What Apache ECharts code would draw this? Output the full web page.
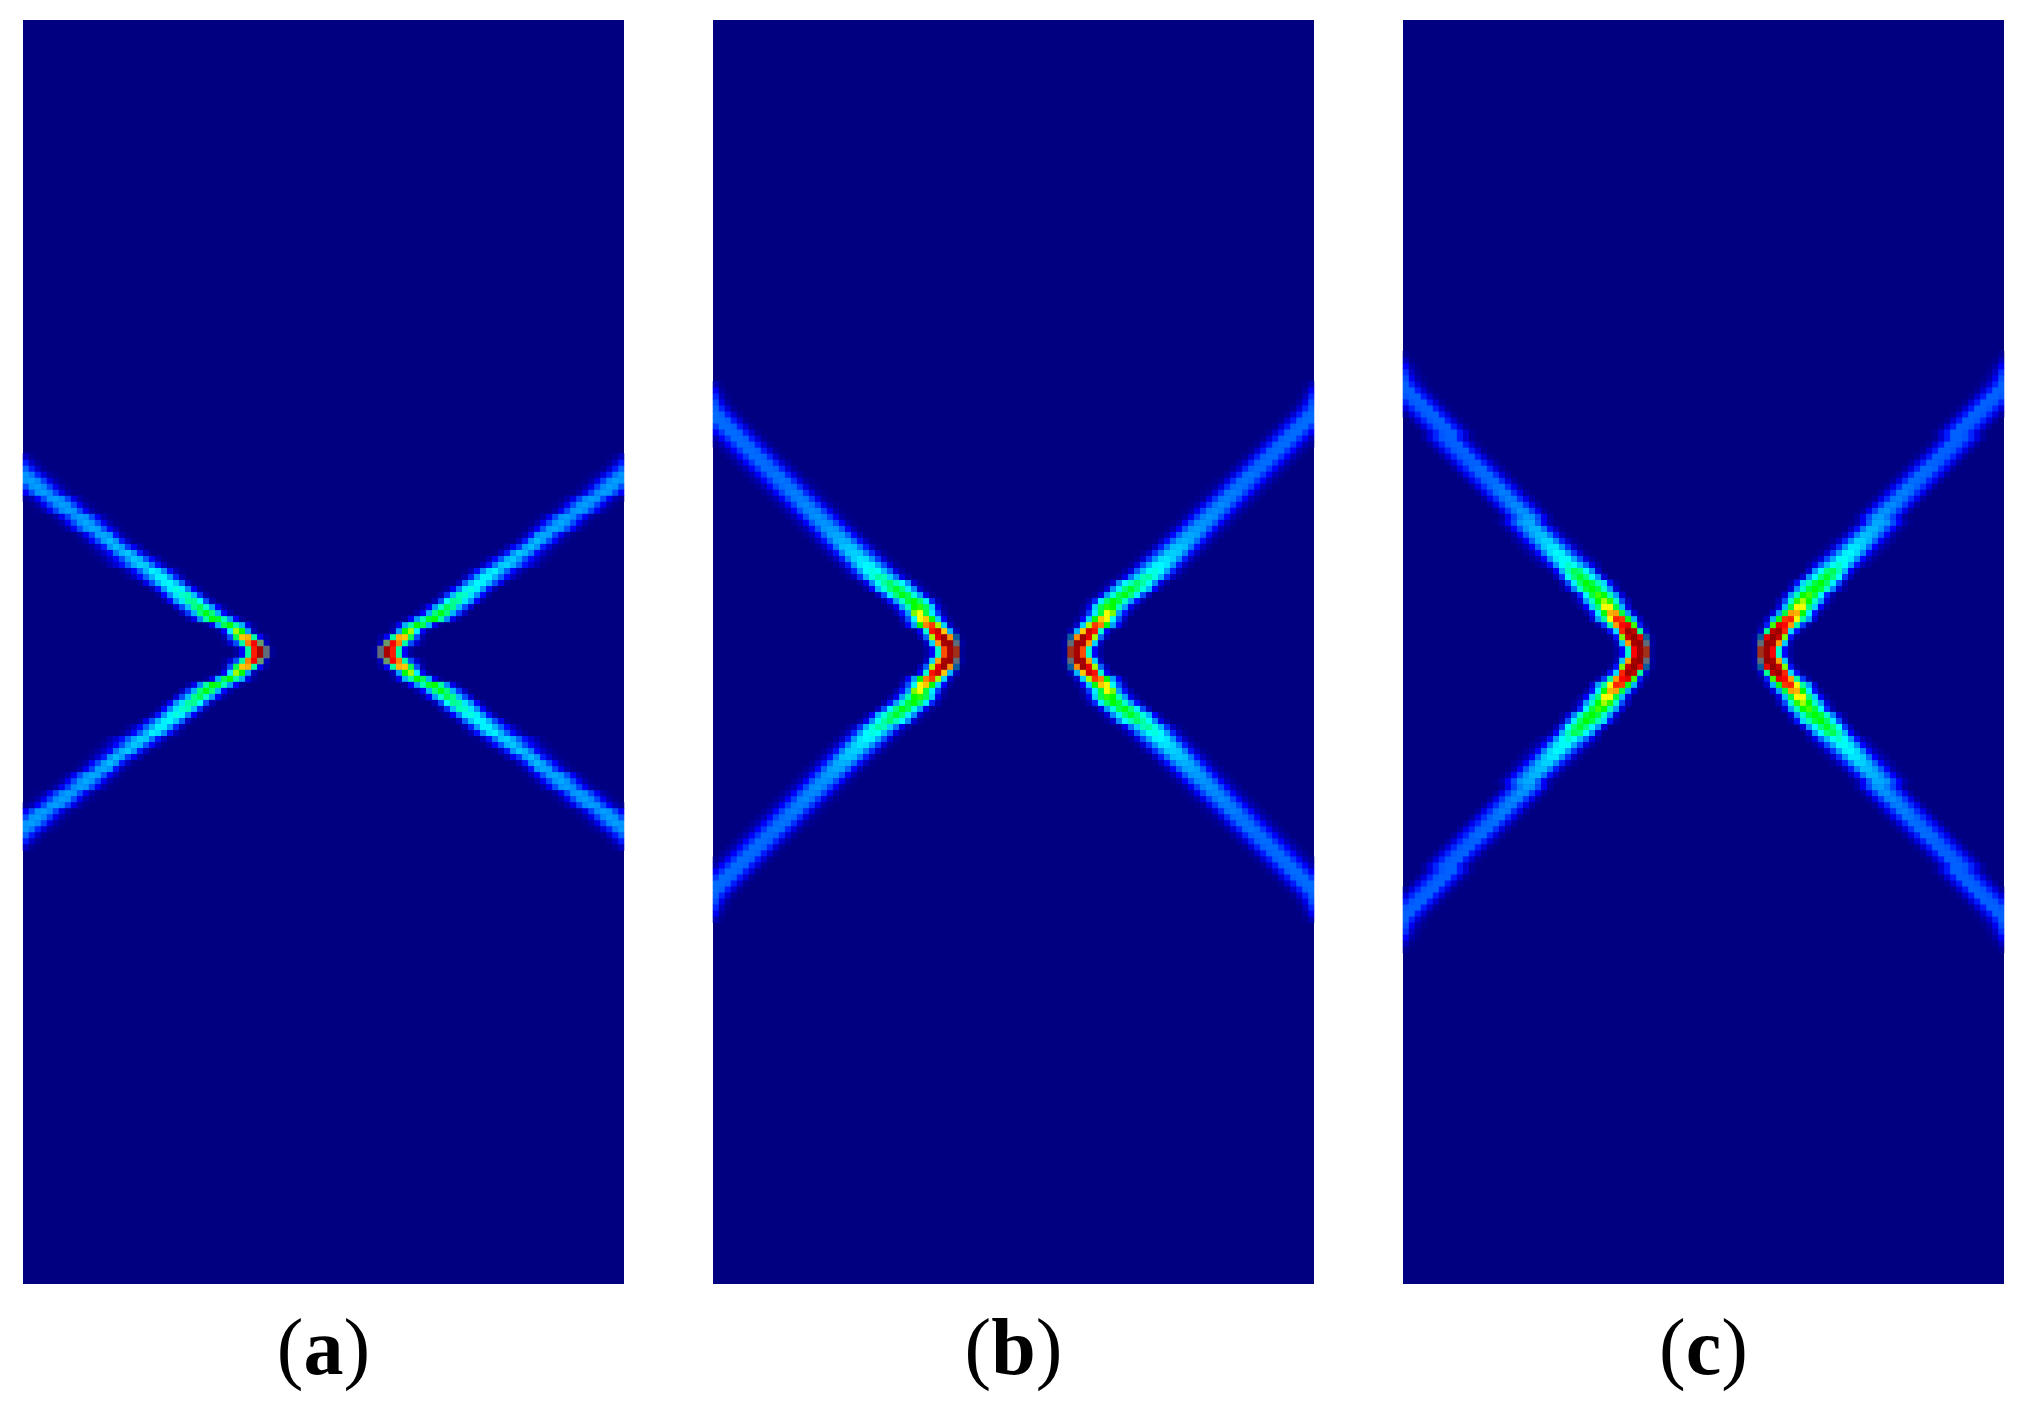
<!DOCTYPE html>
<html>
<head>
<meta charset="utf-8">
<title>Panels a, b, c</title>
<style>
    html, body { margin: 0; padding: 0; background: #fff; }
    #chart { width: 2028px; height: 1406px; }
</style>
<script src="https://cdn.jsdelivr.net/npm/echarts@6/dist/echarts.min.js"></script>
</head>
<body>
<div id="chart"></div>
<script>
// one line per row, going outward from the centre row: [first column, values...]
// values are 0-100 on the colour scale, 101-104 are the washed out cells at the tips
var panelA = [
    [35, 3, 12, 42, 85, 96, 101, 2],
    [33, 2, 8, 20, 42, 75, 88, 102, 6],
    [33, 4, 20, 46, 68, 70, 42, 12, 3],
    [32, 2, 12, 36, 58, 50, 28, 5],
    [30, 2, 10, 30, 46, 50, 42, 30, 10, 2],
    [27, 3, 10, 26, 42, 50, 48, 41, 28, 12, 2],
    [26, 6, 18, 30, 44, 49, 44, 30, 13, 4],
    [25, 8, 20, 31, 43, 46, 40, 28, 12, 3],
    [23, 3, 12, 27, 35, 42, 43, 38, 20, 5],
    [22, 3, 13, 26, 35, 40, 41, 31, 17, 4],
    [21, 4, 14, 27, 36, 39, 36, 25, 12, 3],
    [19, 2, 10, 20, 30, 36, 37, 32, 22, 6, 1],
    [17, 2, 6, 13, 22, 30, 36, 36, 28, 16, 5],
    [16, 2, 6, 13, 22, 30, 36, 34, 26, 14, 5, 1],
    [13, 1, 4, 8, 14, 22, 29, 33, 32, 24, 14, 6, 1],
    [12, 1, 3, 7, 13, 20, 28, 32, 30, 21, 13, 5, 1],
    [11, 1, 3, 7, 13, 24, 30, 32, 27, 15, 6, 1],
    [10, 1, 3, 8, 15, 27, 31, 28, 18, 11, 4],
    [9, 1, 4, 12, 20, 28, 31, 27, 15, 6, 1],
    [8, 1, 4, 11, 19, 28, 29, 27, 14, 5, 1],
    [6, 1, 4, 11, 20, 27, 29, 28, 21, 12, 5, 1],
    [5, 1, 4, 11, 20, 27, 29, 27, 20, 11, 4, 1],
    [4, 1, 4, 11, 19, 26, 28, 27, 20, 11, 4, 1],
    [2, 1, 4, 11, 19, 26, 28, 27, 20, 11, 4, 1],
    [1, 1, 4, 11, 19, 26, 28, 27, 20, 11, 4, 1],
    [0, 2, 5, 12, 20, 27, 28, 26, 19, 10, 4, 1],
    [0, 12, 20, 27, 28, 26, 19, 10, 4, 1],
    [0, 20, 27, 28, 26, 19, 10, 4, 1],
    [0, 27, 28, 26, 19, 10, 4, 1],
    [0, 27, 24, 16, 9, 3, 1],
    [0, 22, 15, 7, 2],
    [0, 15, 7, 2],
    [0, 6, 2]
];
var panelB = [
    [35, 3, 12, 40, 80, 96, 104, 2],
    [35, 6, 33, 72, 96, 97, 101, 3],
    [34, 5, 22, 58, 90, 97, 74, 103, 1],
    [33, 2, 12, 40, 86, 92, 68, 30, 5],
    [31, 2, 12, 28, 50, 75, 82, 58, 33, 7],
    [31, 6, 20, 38, 62, 68, 50, 33, 12, 2],
    [30, 4, 14, 28, 56, 62, 47, 36, 18, 4],
    [29, 3, 10, 28, 41, 50, 52, 46, 33, 10, 2],
    [28, 4, 14, 28, 40, 47, 50, 45, 36, 16, 4],
    [27, 6, 20, 36, 44, 49, 46, 39, 28, 10, 2],
    [25, 3, 12, 30, 39, 44, 48, 44, 36, 26, 8, 2],
    [24, 3, 10, 26, 38, 42, 45, 41, 37, 26, 8, 2],
    [22, 2, 6, 17, 30, 39, 42, 41, 33, 24, 10, 3],
    [21, 2, 6, 16, 28, 37, 39, 38, 31, 22, 9, 3],
    [20, 2, 6, 15, 27, 35, 37, 36, 29, 20, 9, 2],
    [19, 2, 6, 15, 26, 33, 35, 34, 27, 18, 8, 2],
    [18, 2, 6, 14, 25, 32, 33, 32, 25, 17, 7, 2],
    [17, 2, 6, 14, 24, 31, 32, 31, 24, 15, 6, 1],
    [16, 2, 6, 14, 23, 29, 30, 29, 23, 14, 6, 1],
    [15, 2, 5, 13, 22, 28, 29, 28, 22, 13, 5, 1],
    [14, 2, 5, 13, 21, 27, 28, 27, 21, 12, 5, 1],
    [13, 2, 5, 12, 21, 26, 27, 26, 20, 12, 4, 1],
    [12, 2, 5, 12, 20, 26, 27, 25, 19, 11, 4, 1],
    [11, 2, 5, 12, 20, 25, 26, 25, 19, 11, 4, 1],
    [10, 2, 5, 12, 19, 25, 26, 24, 18, 10, 4, 1],
    [9, 2, 5, 12, 19, 24, 25, 24, 18, 10, 3, 1],
    [8, 2, 5, 12, 19, 24, 25, 24, 17, 9, 3, 1],
    [7, 2, 5, 12, 19, 23, 24, 23, 17, 9, 3, 1],
    [6, 2, 5, 12, 18, 23, 24, 23, 17, 9, 3, 1],
    [5, 2, 5, 12, 18, 23, 24, 23, 16, 9, 3],
    [4, 2, 5, 12, 18, 23, 23, 22, 16, 8, 3],
    [3, 2, 5, 12, 18, 23, 23, 22, 16, 8, 3],
    [2, 2, 5, 12, 18, 23, 23, 22, 16, 8, 2],
    [1, 2, 5, 12, 18, 23, 23, 22, 15, 8, 2],
    [0, 2, 5, 12, 18, 23, 23, 22, 15, 8, 2],
    [0, 5, 12, 18, 23, 23, 22, 15, 8, 2],
    [0, 12, 18, 23, 23, 22, 15, 8, 2],
    [0, 18, 23, 23, 22, 15, 8, 2],
    [0, 23, 23, 22, 15, 8, 2],
    [0, 23, 22, 15, 8, 2],
    [0, 22, 16, 8, 2],
    [0, 20, 10, 3],
    [0, 16, 6, 1],
    [0, 11, 3],
    [0, 5, 1]
];
var panelC = [
    [35, 3, 13, 40, 88, 97, 104, 2],
    [35, 5, 32, 72, 96, 98, 101, 3],
    [34, 2, 14, 56, 93, 98, 90, 103, 2],
    [33, 2, 14, 34, 84, 97, 94, 43, 7],
    [32, 4, 18, 42, 72, 87, 90, 53, 15, 2],
    [31, 8, 28, 42, 62, 84, 82, 49, 30, 6],
    [30, 3, 14, 36, 50, 70, 72, 47, 28, 8],
    [29, 3, 12, 33, 44, 62, 63, 47, 31, 9],
    [28, 2, 8, 28, 40, 50, 58, 52, 40, 20, 5],
    [28, 4, 16, 37, 47, 53, 50, 41, 28, 8],
    [26, 2, 8, 25, 40, 47, 50, 47, 40, 27, 8],
    [26, 5, 20, 36, 45, 50, 47, 41, 34, 14, 3],
    [25, 5, 18, 38, 44, 48, 44, 37, 27, 8],
    [24, 3, 12, 30, 41, 46, 44, 37, 27, 8],
    [22, 2, 5, 14, 27, 37, 40, 38, 31, 22, 10, 3],
    [21, 2, 5, 13, 26, 35, 38, 37, 29, 20, 9, 3],
    [20, 2, 5, 13, 25, 34, 37, 36, 28, 18, 8, 2],
    [19, 2, 5, 12, 23, 32, 35, 35, 27, 17, 7, 2],
    [18, 2, 5, 12, 22, 30, 33, 33, 26, 16, 7, 2],
    [17, 1, 4, 12, 21, 28, 31, 31, 25, 15, 6, 1],
    [16, 1, 4, 12, 20, 27, 30, 30, 24, 14, 6, 1],
    [15, 1, 4, 12, 20, 27, 29, 29, 22, 12, 4, 1],
    [16, 3, 11, 19, 25, 28, 27, 20, 11, 3],
    [15, 3, 10, 18, 24, 27, 26, 19, 11, 3],
    [14, 3, 10, 18, 24, 26, 25, 18, 10, 3],
    [13, 3, 10, 17, 23, 25, 24, 17, 10, 3],
    [12, 3, 10, 17, 23, 25, 24, 17, 10, 3],
    [11, 3, 10, 17, 22, 24, 24, 17, 10, 3],
    [10, 3, 10, 16, 22, 23, 23, 17, 9, 3],
    [9, 3, 10, 16, 22, 23, 23, 17, 9, 3],
    [8, 3, 10, 16, 22, 23, 23, 16, 9, 3],
    [7, 3, 9, 16, 21, 22, 22, 16, 9, 3],
    [6, 3, 9, 16, 21, 22, 22, 15, 8, 2],
    [5, 3, 9, 16, 21, 22, 22, 15, 8, 2],
    [4, 3, 9, 16, 21, 22, 22, 15, 8, 2],
    [3, 3, 9, 16, 21, 22, 22, 15, 8, 2],
    [3, 3, 9, 16, 21, 22, 22, 15, 8, 2],
    [2, 3, 9, 16, 21, 22, 22, 15, 8, 2],
    [1, 3, 9, 16, 21, 22, 22, 15, 8, 2],
    [0, 3, 9, 16, 21, 22, 22, 15, 8, 2],
    [0, 9, 16, 21, 22, 22, 15, 8, 2],
    [0, 16, 21, 22, 22, 15, 8, 2],
    [0, 21, 22, 22, 15, 8, 2],
    [0, 22, 22, 15, 8, 2],
    [0, 22, 16, 8, 3],
    [0, 20, 11, 4, 1],
    [0, 17, 7, 2],
    [0, 12, 4, 1],
    [0, 6, 1],
    [0, 2]
];
var panelLetters = ['a', 'b', 'c'];
var columnCount = 100;
var rowCount = 210;

var panels = [panelA, panelB, panelC];
var lefts = [23, 713, 1403];
var scaleColors = ['#000080', '#0000ff', '#0080ff', '#00ffff', '#00ff00', '#ffff00', '#ff8000', '#ff0000', '#800000'];

function range(n) {
    var out = [];
    for (var i = 0; i < n; i++) {
        out.push(i);
    }
    return out;
}

// each panel is symmetric, so a row is used four times: up/down and left/right
function expand(panel, tones) {
    var cells = panel.reduce(function (list, row, k) {
        row.slice(1).forEach(function (v, i) {
            var col = row[0] + i;
            [rowCount / 2 - 1 - k, rowCount / 2 + k].forEach(function (y) {
                list.push([col, y, v]);
                list.push([columnCount - 1 - col, y, v]);
            });
        });
        return list;
    }, []);
    return cells.filter(function (c) {
        return tones ? c[2] > 100 : c[2] <= 100;
    });
}

var grids = [], xAxes = [], yAxes = [], series = [];
panels.forEach(function (panel, i) {
    grids.push({
        left: lefts[i], top: 20, width: 601, height: 1264,
        outerBoundsMode: 'none',
        show: true, backgroundColor: '#000080', borderWidth: 0
    });
    xAxes.push({
        type: 'category', gridIndex: i, data: range(columnCount),
        axisLine: {show: false}, axisTick: {show: false}, axisLabel: {show: false}, splitLine: {show: false},
        name: '{p|(}{b|' + panelLetters[i] + '}{p|)}',
        nameLocation: 'middle',
        nameGap: 29,
        nameTextStyle: {
            rich: {
                p: {fontFamily: 'Liberation Serif', fontSize: 80, color: '#000'},
                b: {fontFamily: 'Liberation Serif', fontSize: 80, fontWeight: 'bold', color: '#000'}
            }
        }
    });
    yAxes.push({
        type: 'category', gridIndex: i, data: range(rowCount),
        axisLine: {show: false}, axisTick: {show: false}, axisLabel: {show: false}, splitLine: {show: false}
    });
});
panels.forEach(function (panel, i) {
    series.push({
        type: 'heatmap', xAxisIndex: i, yAxisIndex: i, data: expand(panel, false),
        progressive: 0, emphasis: {disabled: true}
    });
});
panels.forEach(function (panel, i) {
    series.push({
        type: 'heatmap', xAxisIndex: i, yAxisIndex: i, data: expand(panel, true),
        progressive: 0, emphasis: {disabled: true}
    });
});

var chart = echarts.init(document.getElementById('chart'), null, {renderer: 'canvas'});
chart.setOption({
    animation: false,
    backgroundColor: '#fff',
    grid: grids,
    xAxis: xAxes,
    yAxis: yAxes,
    visualMap: [
        {
            type: 'continuous', show: false, seriesIndex: [0, 1, 2], dimension: 2,
            min: 0, max: 100, inRange: {color: scaleColors}
        },
        {
            type: 'piecewise', show: false, seriesIndex: [3, 4, 5], dimension: 2,
            pieces: [
                {value: 101, color: '#5e6c7c'},
                {value: 102, color: '#6a9a6a'},
                {value: 103, color: '#0a5aa0'},
                {value: 104, color: '#a03018'}
            ]
        }
    ],
    series: series
});
</script>
</body>
</html>
